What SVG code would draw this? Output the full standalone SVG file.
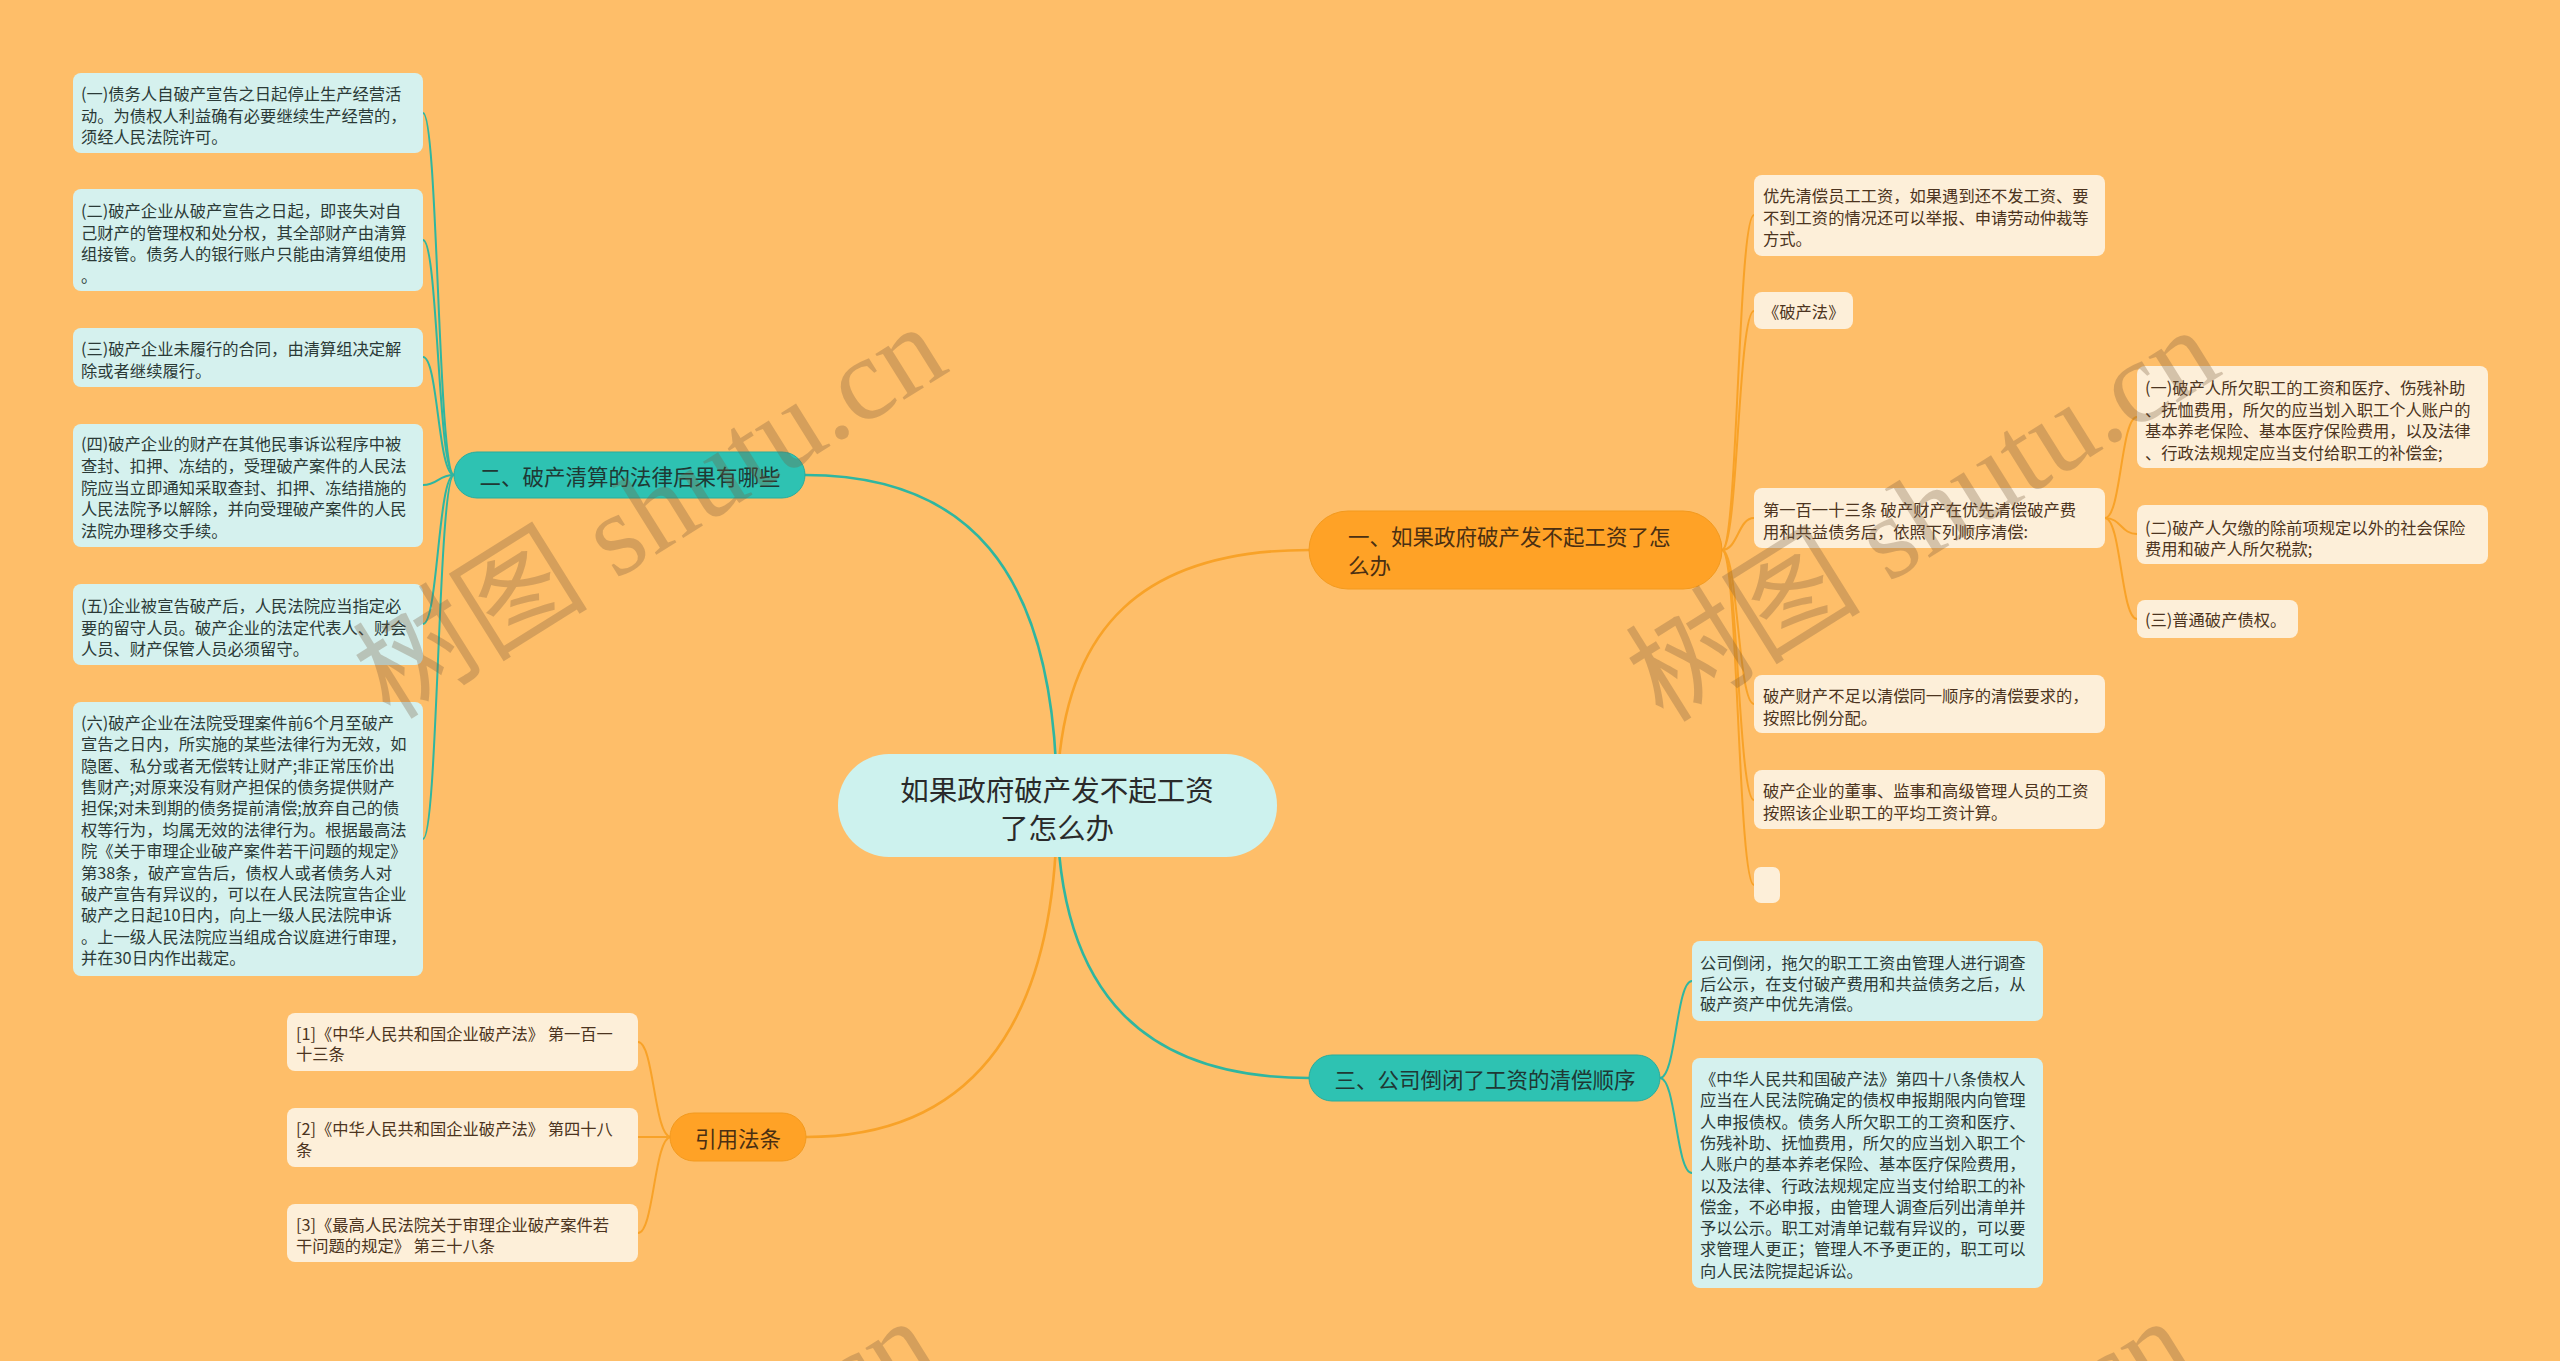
<svg xmlns="http://www.w3.org/2000/svg" width="2560" height="1361" viewBox="0 0 2560 1361">
<style>
text{font-family:"Noto Sans CJK SC","Noto Sans",sans-serif;dominant-baseline:central}
.lt{font-size:16.3px;fill:#2b3a37}
.ct{font-size:16.3px;fill:#4c3420}
.bt{font-size:21.5px;fill:#1f3834}
.bo{font-size:21.5px;fill:#4a2f12}
.rt{font-size:28.5px;fill:#2a2a2a}
.leafT{fill:#d5f1ee}
.leafC{fill:#fdefd9}
.brT{fill:#2ec2b2;stroke:#27ad9e;stroke-width:1}
.brO{fill:#ffa226;stroke:#f39a1e;stroke-width:1}
.cT{fill:none;stroke:#2fb6a0;stroke-width:2}
.cO{fill:none;stroke:#f8a228;stroke-width:2}
.mT{fill:none;stroke:#2fb6a0;stroke-width:2.6}
.mO{fill:none;stroke:#f8a228;stroke-width:2.6}
.wm{font-family:"Liberation Serif","Noto Sans CJK SC",serif;font-size:118px;fill:#785a3c;fill-opacity:0.3;text-anchor:middle}
</style>
<rect x="0" y="0" width="2560" height="1361" fill="#febe69"/>
<g id="connectors">
<path class="mT" d="M1057 805 C1057 560 960 475 805 475"/>
<path class="mO" d="M1057 805 C1057 620 1150 550 1309 550"/>
<path class="mT" d="M1057 805 C1057 1000 1150 1078 1309 1078"/>
<path class="mO" d="M1057 805 C1057 1040 960 1137 806 1137"/>
<path class="cT" d="M454 475 C438 475 438 113 423 113"/>
<path class="cT" d="M454 475 C438 475 438 240 423 240"/>
<path class="cT" d="M454 475 C438 475 438 357 423 357"/>
<path class="cT" d="M454 475 C438 475 438 485 423 485"/>
<path class="cT" d="M454 475 C438 475 438 624 423 624"/>
<path class="cT" d="M454 475 C438 475 438 839 423 839"/>
<path class="cO" d="M1722 550 C1738 550 1738 215 1754 215"/>
<path class="cO" d="M1722 550 C1738 550 1738 311 1754 311"/>
<path class="cO" d="M1722 550 C1738 550 1738 518 1754 518"/>
<path class="cO" d="M1722 550 C1738 550 1738 704 1754 704"/>
<path class="cO" d="M1722 550 C1738 550 1738 800 1754 800"/>
<path class="cO" d="M1722 550 C1738 550 1738 885 1754 885"/>
<path class="cO" d="M2105 518 C2121 518 2121 417 2137 417"/>
<path class="cO" d="M2105 518 C2121 518 2121 534 2137 534"/>
<path class="cO" d="M2105 518 C2121 518 2121 619 2137 619"/>
<path class="cT" d="M1660 1078 C1676 1078 1676 981 1692 981"/>
<path class="cT" d="M1660 1078 C1676 1078 1676 1173 1692 1173"/>
<path class="cO" d="M671 1137 C654 1137 654 1042 638 1042"/>
<path class="cO" d="M671 1137 C654 1137 654 1137 638 1137"/>
<path class="cO" d="M671 1137 C654 1137 654 1233 638 1233"/>
</g>
<g id="root">
<rect x="838" y="754" width="439" height="103" rx="51" fill="#cdf2ee"/>
<text class="rt" text-anchor="middle"><tspan x="1057" y="788">如果政府破产发不起工资</tspan><tspan x="1057" y="826">了怎么办</tspan></text>
</g>
<g id="branch-2">
<rect class="brT" x="454" y="452" width="351" height="46" rx="23"/>
<text class="bt" x="630" y="475" text-anchor="middle">二、破产清算的法律后果有哪些</text>
</g>
<g id="branch-1">
<rect class="brO" x="1309" y="511" width="413" height="78" rx="39"/>
<text class="bo"><tspan x="1348" y="535">一、如果政府破产发不起工资了怎</tspan><tspan x="1348" y="564">么办</tspan></text>
</g>
<g id="branch-3">
<rect class="brT" x="1309" y="1055" width="351" height="46" rx="23"/>
<text class="bt" x="1485" y="1078" text-anchor="middle">三、公司倒闭了工资的清偿顺序</text>
</g>
<g id="branch-cite">
<rect class="brO" x="670" y="1113" width="136" height="48" rx="24"/>
<text class="bo" x="738" y="1137" text-anchor="middle">引用法条</text>
</g>
<g id="l1">
<rect class="leafT" x="73" y="73" width="350" height="80" rx="8"/>
<text class="lt"><tspan x="81" y="93">(一)债务人自破产宣告之日起停止生产经营活</tspan><tspan x="81" y="114.5">动。为债权人利益确有必要继续生产经营的，</tspan><tspan x="81" y="136">须经人民法院许可。</tspan></text>
</g>
<g id="l2">
<rect class="leafT" x="73" y="189" width="350" height="102" rx="8"/>
<text class="lt"><tspan x="81" y="210">(二)破产企业从破产宣告之日起，即丧失对自</tspan><tspan x="81" y="232">己财产的管理权和处分权，其全部财产由清算</tspan><tspan x="81" y="253">组接管。债务人的银行账户只能由清算组使用</tspan><tspan x="81" y="275">。</tspan></text>
</g>
<g id="l3">
<rect class="leafT" x="73" y="328" width="350" height="59" rx="8"/>
<text class="lt"><tspan x="81" y="348">(三)破产企业未履行的合同，由清算组决定解</tspan><tspan x="81" y="370">除或者继续履行。</tspan></text>
</g>
<g id="l4">
<rect class="leafT" x="73" y="424" width="350" height="123" rx="8"/>
<text class="lt"><tspan x="81" y="443">(四)破产企业的财产在其他民事诉讼程序中被</tspan><tspan x="81" y="465">查封、扣押、冻结的，受理破产案件的人民法</tspan><tspan x="81" y="487">院应当立即通知采取查封、扣押、冻结措施的</tspan><tspan x="81" y="508">人民法院予以解除，并向受理破产案件的人民</tspan><tspan x="81" y="530">法院办理移交手续。</tspan></text>
</g>
<g id="l5">
<rect class="leafT" x="73" y="584" width="350" height="81" rx="8"/>
<text class="lt"><tspan x="81" y="605">(五)企业被宣告破产后，人民法院应当指定必</tspan><tspan x="81" y="627">要的留守人员。破产企业的法定代表人、财会</tspan><tspan x="81" y="648">人员、财产保管人员必须留守。</tspan></text>
</g>
<g id="l6">
<rect class="leafT" x="73" y="702" width="350" height="274" rx="8"/>
<text class="lt"><tspan x="81" y="722">(六)破产企业在法院受理案件前6个月至破产</tspan><tspan x="81" y="743.4">宣告之日内，所实施的某些法律行为无效，如</tspan><tspan x="81" y="764.7">隐匿、私分或者无偿转让财产;非正常压价出</tspan><tspan x="81" y="786">售财产;对原来没有财产担保的债务提供财产</tspan><tspan x="81" y="807.4">担保;对未到期的债务提前清偿;放弃自己的债</tspan><tspan x="81" y="828.8">权等行为，均属无效的法律行为。根据最高法</tspan><tspan x="81" y="850">院《关于审理企业破产案件若干问题的规定》</tspan><tspan x="81" y="871.5">第38条，破产宣告后，债权人或者债务人对</tspan><tspan x="81" y="892.8">破产宣告有异议的，可以在人民法院宣告企业</tspan><tspan x="81" y="914">破产之日起10日内，向上一级人民法院申诉</tspan><tspan x="81" y="935.5">。上一级人民法院应当组成合议庭进行审理，</tspan><tspan x="81" y="956.9">并在30日内作出裁定。</tspan></text>
</g>
<g id="r1">
<rect class="leafC" x="1754" y="175" width="351" height="81" rx="8"/>
<text class="ct"><tspan x="1763" y="195">优先清偿员工工资，如果遇到还不发工资、要</tspan><tspan x="1763" y="217">不到工资的情况还可以举报、申请劳动仲裁等</tspan><tspan x="1763" y="238">方式。</tspan></text>
</g>
<g id="r2">
<rect class="leafC" x="1754" y="292" width="99" height="37" rx="8"/>
<text class="ct" x="1763" y="311">《破产法》</text>
</g>
<g id="r3">
<rect class="leafC" x="1754" y="488" width="351" height="60" rx="8"/>
<text class="ct"><tspan x="1763" y="509">第一百一十三条 破产财产在优先清偿破产费</tspan><tspan x="1763" y="531">用和共益债务后，依照下列顺序清偿:</tspan></text>
</g>
<g id="r3-1">
<rect class="leafC" x="2137" y="366" width="351" height="102" rx="8"/>
<text class="ct"><tspan x="2145" y="387">(一)破产人所欠职工的工资和医疗、伤残补助</tspan><tspan x="2145" y="408.5">、抚恤费用，所欠的应当划入职工个人账户的</tspan><tspan x="2145" y="430">基本养老保险、基本医疗保险费用，以及法律</tspan><tspan x="2145" y="451.5">、行政法规规定应当支付给职工的补偿金;</tspan></text>
</g>
<g id="r3-2">
<rect class="leafC" x="2137" y="505" width="351" height="59" rx="8"/>
<text class="ct"><tspan x="2145" y="527">(二)破产人欠缴的除前项规定以外的社会保险</tspan><tspan x="2145" y="548">费用和破产人所欠税款;</tspan></text>
</g>
<g id="r3-3">
<rect class="leafC" x="2137" y="600" width="161" height="38" rx="8"/>
<text class="ct" x="2145" y="619">(三)普通破产债权。</text>
</g>
<g id="r4">
<rect class="leafC" x="1754" y="675" width="351" height="58" rx="8"/>
<text class="ct"><tspan x="1763" y="695">破产财产不足以清偿同一顺序的清偿要求的，</tspan><tspan x="1763" y="717">按照比例分配。</tspan></text>
</g>
<g id="r5">
<rect class="leafC" x="1754" y="770" width="351" height="59" rx="8"/>
<text class="ct"><tspan x="1763" y="790">破产企业的董事、监事和高级管理人员的工资</tspan><tspan x="1763" y="812">按照该企业职工的平均工资计算。</tspan></text>
</g>
<g id="r6">
<rect class="leafC" x="1754" y="867" width="26" height="36" rx="7"/>
</g>
<g id="s1">
<rect class="leafT" x="1692" y="941" width="351" height="80" rx="8"/>
<text class="lt"><tspan x="1700" y="962">公司倒闭，拖欠的职工工资由管理人进行调查</tspan><tspan x="1700" y="983">后公示，在支付破产费用和共益债务之后，从</tspan><tspan x="1700" y="1003">破产资产中优先清偿。</tspan></text>
</g>
<g id="s2">
<rect class="leafT" x="1692" y="1058" width="351" height="230" rx="8"/>
<text class="lt"><tspan x="1700" y="1078">《中华人民共和国破产法》第四十八条债权人</tspan><tspan x="1700" y="1099.3">应当在人民法院确定的债权申报期限内向管理</tspan><tspan x="1700" y="1120.6">人申报债权。债务人所欠职工的工资和医疗、</tspan><tspan x="1700" y="1141.9">伤残补助、抚恤费用，所欠的应当划入职工个</tspan><tspan x="1700" y="1163.2">人账户的基本养老保险、基本医疗保险费用，</tspan><tspan x="1700" y="1184.5">以及法律、行政法规规定应当支付给职工的补</tspan><tspan x="1700" y="1205.8">偿金，不必申报，由管理人调查后列出清单并</tspan><tspan x="1700" y="1227.1">予以公示。职工对清单记载有异议的，可以要</tspan><tspan x="1700" y="1248.4">求管理人更正；管理人不予更正的，职工可以</tspan><tspan x="1700" y="1269.7">向人民法院提起诉讼。</tspan></text>
</g>
<g id="c1">
<rect class="leafC" x="287" y="1013" width="351" height="58" rx="8"/>
<text class="ct"><tspan x="296" y="1033">[1]《中华人民共和国企业破产法》 第一百一</tspan><tspan x="296" y="1053">十三条</tspan></text>
</g>
<g id="c2">
<rect class="leafC" x="287" y="1108" width="351" height="59" rx="8"/>
<text class="ct"><tspan x="296" y="1128">[2]《中华人民共和国企业破产法》 第四十八</tspan><tspan x="296" y="1149">条</tspan></text>
</g>
<g id="c3">
<rect class="leafC" x="287" y="1204" width="351" height="58" rx="8"/>
<text class="ct"><tspan x="296" y="1224">[3]《最高人民法院关于审理企业破产案件若</tspan><tspan x="296" y="1245">干问题的规定》 第三十八条</tspan></text>
</g>
<g id="watermarks">
<text class="wm" transform="translate(650 512) rotate(-32)">树图 shutu.cn</text>
<text class="wm" transform="translate(1923 515) rotate(-32)">树图 shutu.cn</text>
<text class="wm" transform="translate(640 1506) rotate(-32)">树图 shutu.cn</text>
<text class="wm" transform="translate(1895 1506) rotate(-32)">树图 shutu.cn</text>
</g>
</svg>
